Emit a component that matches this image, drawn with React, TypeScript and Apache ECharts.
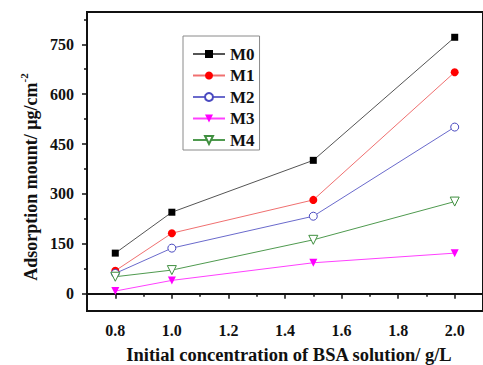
import React, { useEffect, useRef } from "react";
import * as echarts from "echarts";

const xValues = [0.8, 1.0, 1.5, 2.0];
const seriesNames = ["M0", "M1", "M2", "M3", "M4"];
const m0 = [122, 245, 401, 771];
const m1 = [69, 182, 282, 666];
const m2 = [61, 137, 233, 501];
const m3 = [8, 40, 93, 122];
const m4 = [51, 71, 162, 277];
const xMajorTicks = [0.8, 1.0, 1.2, 1.4, 1.6, 1.8, 2.0];
const xMinorTicks = [0.9, 1.1, 1.3, 1.5, 1.7, 1.9];
const yMajorTicks = [0, 150, 300, 450, 600, 750];
const yMinorTicks = [75, 225, 375, 525, 675, 825];
const xTitle = "Initial concentration of BSA solution/ g/L";
const yTitleMain = "Adsorption mount/ μg/cm";
const yTitleSup = "-2";

const FONT = "Liberation Serif";

export default function App() {
  const ref = useRef<HTMLDivElement>(null);
  useEffect(() => {
    document.body.style.margin = "0";
    const chart = echarts.init(ref.current!, null, { renderer: "svg" });
    const pairs = (ys: number[]) => xValues.map((x, i) => [x, ys[i]]);
    const styles = [
      { line: "#555555", color: "#000000", border: "#000000", symbol: "rect", size: 7, rot: 0 },
      { line: "#f07070", color: "#ff0000", border: "#ff0000", symbol: "circle", size: 8, rot: 0 },
      { line: "#6a6acc", color: "#ffffff", border: "#4a4ac0", symbol: "circle", size: 8, rot: 0 },
      { line: "#ff40ff", color: "#ff00ff", border: "#ff00ff", symbol: "triangle", size: 8, rot: 180 },
      { line: "#4f9a4f", color: "#ffffff", border: "#3f8f3f", symbol: "triangle", size: 9, rot: 180 },
    ];
    const data = [m0, m1, m2, m3, m4];
    const xCommon = { type: "value", min: 0.7, max: 2.1, gridIndex: 0, splitLine: { show: false } };
    const yCommon = { type: "value", min: -52, max: 847, gridIndex: 0, splitLine: { show: false } };
    chart.setOption({
      animation: false,
      backgroundColor: "#ffffff",
      textStyle: { fontFamily: FONT },
      grid: {
        left: 87,
        top: 12,
        width: 404,
        height: 299,
        show: true,
        borderColor: "#111111",
        borderWidth: 2,
        backgroundColor: "transparent",
      },
      xAxis: [
        {
          ...xCommon,
          position: "bottom",
          axisLine: { show: true, lineStyle: { color: "#111", width: 2 } },
          axisTick: { show: true, customValues: xMajorTicks, length: 5, lineStyle: { color: "#111", width: 1.5 } },
          axisLabel: {
            show: true,
            customValues: xMajorTicks,
            formatter: (v: number) => v.toFixed(1),
            margin: 11,
            color: "#111",
            fontFamily: FONT,
            fontWeight: "bold",
            fontSize: 16,
          },
        },
        {
          ...xCommon,
          position: "bottom",
          axisLine: { show: false },
          axisTick: { show: true, customValues: xMinorTicks, length: 3, lineStyle: { color: "#111", width: 1.5 } },
          axisLabel: { show: false },
        },
      ],
      yAxis: [
        {
          ...yCommon,
          position: "left",
          axisLine: { show: true, lineStyle: { color: "#111", width: 2 } },
          axisTick: { show: true, customValues: yMajorTicks, length: 5, lineStyle: { color: "#111", width: 1.5 } },
          axisLabel: {
            show: true,
            customValues: yMajorTicks,
            margin: 13,
            color: "#111",
            fontFamily: FONT,
            fontWeight: "bold",
            fontSize: 16,
          },
        },
        {
          ...yCommon,
          position: "left",
          axisLine: { show: false },
          axisTick: { show: true, customValues: yMinorTicks, length: 3, lineStyle: { color: "#111", width: 1.5 } },
          axisLabel: { show: false },
        },
      ],
      legend: {
        orient: "vertical",
        left: 183,
        top: 36,
        padding: [9, 5, 1, 9],
        itemWidth: 32,
        itemHeight: 10,
        itemGap: 3.5,
        backgroundColor: "#ffffff",
        borderColor: "#8a8a8a",
        borderWidth: 1,
        data: seriesNames,
        textStyle: {
          fontFamily: FONT,
          fontWeight: "bold",
          fontSize: 17,
          color: "#111",
          lineHeight: 18,
        },
      },
      graphic: [
        {
          type: "text",
          x: 289,
          y: 364,
          style: {
            text: xTitle,
            fontFamily: FONT,
            fontWeight: "bold",
            fontSize: 18.5,
            fill: "#111",
            align: "center",
            verticalAlign: "bottom",
          },
        },
        {
          type: "text",
          x: 29,
          y: 177,
          rotation: Math.PI / 2,
          style: {
            text: "{a|" + yTitleMain + "}{s|" + yTitleSup + "}",
            align: "center",
            verticalAlign: "middle",
            rich: {
              a: { fontFamily: FONT, fontWeight: "bold", fontSize: 18, fill: "#111", lineHeight: 22, verticalAlign: "bottom" },
              s: { fontFamily: FONT, fontWeight: "bold", fontSize: 11, fill: "#111", lineHeight: 22, verticalAlign: "top" },
            },
          },
        },
      ],
      series: data.map((ys, i) => ({
        name: seriesNames[i],
        type: "line",
        xAxisIndex: 0,
        yAxisIndex: 0,
        data: pairs(ys),
        symbol: styles[i].symbol,
        symbolSize: styles[i].size,
        symbolRotate: styles[i].rot,
        showAllSymbol: true,
        lineStyle: { color: styles[i].line, width: 1 },
        itemStyle: { color: styles[i].color, borderColor: styles[i].border, borderWidth: styles[i].color === "#ffffff" ? 1 : 0 },
        emphasis: { disabled: true },
      })),
    });
    return () => chart.dispose();
  }, []);
  return <div ref={ref} style={{ position: "fixed", left: 0, top: 0, width: 483, height: 365 }} />;
}
